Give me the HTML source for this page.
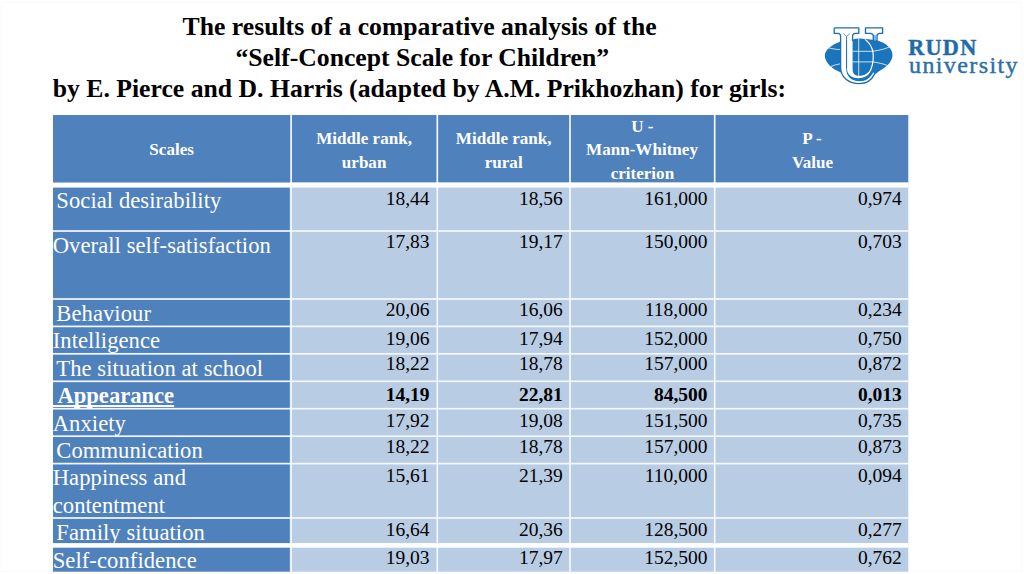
<!DOCTYPE html>
<html><head><meta charset="utf-8"><title>Slide</title>
<style>
html,body{margin:0;padding:0;background:#fff;}
body{width:1024px;height:574px;position:relative;overflow:hidden;font-family:"Liberation Serif",serif;}
.t{position:absolute;line-height:1;white-space:nowrap;}
.r{position:absolute;}
</style></head><body>
<div class="r" style="left:1px;top:2px;width:1021px;height:570px;border:1px solid #fafafa;box-sizing:border-box"></div>
<svg class="r" style="left:0;top:0" width="1024" height="574" viewBox="0 0 1024 574"><rect x="53.00" y="115.00" width="855.30" height="67.60" fill="#4F81BD"/><rect x="53.00" y="182.60" width="236.90" height="389.10" fill="#4F81BD"/><rect x="289.90" y="182.60" width="618.40" height="389.10" fill="#B8CCE4"/></svg>
<div class="t" style="top:14.00px;font-size:25.7px;color:#000;font-weight:bold;left:-180.40px;width:1200px;text-align:center;">The results of a comparative analysis of the</div>
<div class="t" style="top:45.00px;font-size:25.7px;color:#000;font-weight:bold;left:-177.70px;width:1200px;text-align:center;">“Self-Concept Scale for Children”</div>
<div class="t" style="top:76.00px;font-size:25.7px;color:#000;font-weight:bold;left:-180.60px;width:1200px;text-align:center;">by E. Pierce and D. Harris (adapted by A.M. Prikhozhan) for girls:</div>
<div class="t" style="top:141.00px;font-size:17.07px;color:#fff;font-weight:bold;left:-428.40px;width:1200px;text-align:center;">Scales</div>
<div class="t" style="top:130.00px;font-size:17.07px;color:#fff;font-weight:bold;left:-235.90px;width:1200px;text-align:center;">Middle rank,</div>
<div class="t" style="top:154.00px;font-size:17.07px;color:#fff;font-weight:bold;left:-235.90px;width:1200px;text-align:center;">urban</div>
<div class="t" style="top:130.00px;font-size:17.07px;color:#fff;font-weight:bold;left:-96.30px;width:1200px;text-align:center;">Middle rank,</div>
<div class="t" style="top:154.00px;font-size:17.07px;color:#fff;font-weight:bold;left:-96.30px;width:1200px;text-align:center;">rural</div>
<div class="t" style="top:118.00px;font-size:17.07px;color:#fff;font-weight:bold;left:42.40px;width:1200px;text-align:center;">U -</div>
<div class="t" style="top:141.00px;font-size:17.07px;color:#fff;font-weight:bold;left:42.00px;width:1200px;text-align:center;">Mann-Whitney</div>
<div class="t" style="top:165.00px;font-size:17.07px;color:#fff;font-weight:bold;left:42.40px;width:1200px;text-align:center;">criterion</div>
<div class="t" style="top:130.00px;font-size:17.07px;color:#fff;font-weight:bold;left:212.00px;width:1200px;text-align:center;">P -</div>
<div class="t" style="top:154.00px;font-size:17.07px;color:#fff;font-weight:bold;left:212.50px;width:1200px;text-align:center;">Value</div>
<div class="t" style="top:190.00px;font-size:22.6px;color:#fff;left:56.30px;letter-spacing:.07px;">Social desirability</div>
<div class="t" style="top:235.00px;font-size:22.6px;color:#fff;left:52.70px;letter-spacing:.07px;">Overall self-satisfaction</div>
<div class="t" style="top:303.00px;font-size:22.6px;color:#fff;left:56.30px;letter-spacing:.07px;">Behaviour</div>
<div class="t" style="top:330.00px;font-size:22.6px;color:#fff;left:52.70px;letter-spacing:.07px;">Intelligence</div>
<div class="t" style="top:358.00px;font-size:22.6px;color:#fff;left:56.30px;letter-spacing:.07px;">The situation at school</div>
<div class="t" style="top:385.00px;font-size:22.6px;color:#fff;font-weight:bold;left:53.00px;"><span style="text-decoration:underline;text-decoration-skip-ink:none;text-decoration-thickness:1.9px;text-underline-offset:1.6px;white-space:pre"> Appearance</span></div>
<div class="t" style="top:413.00px;font-size:22.6px;color:#fff;left:52.70px;letter-spacing:.07px;">Anxiety</div>
<div class="t" style="top:440.00px;font-size:22.6px;color:#fff;left:56.30px;letter-spacing:.07px;">Communication</div>
<div class="t" style="top:467.00px;font-size:22.6px;color:#fff;left:52.70px;letter-spacing:.07px;">Happiness and</div>
<div class="t" style="top:495.00px;font-size:22.6px;color:#fff;left:52.70px;letter-spacing:.07px;">contentment</div>
<div class="t" style="top:522.00px;font-size:22.6px;color:#fff;left:56.30px;letter-spacing:.07px;">Family situation</div>
<div class="t" style="top:550.00px;font-size:22.6px;color:#fff;left:52.70px;letter-spacing:.07px;">Self-confidence</div>
<div class="t" style="top:189.00px;font-size:19.5px;color:#000;right:594.40px;">18,44</div>
<div class="t" style="top:189.00px;font-size:19.5px;color:#000;right:461.20px;">18,56</div>
<div class="t" style="top:189.00px;font-size:19.5px;color:#000;right:316.50px;">161,000</div>
<div class="t" style="top:189.00px;font-size:19.5px;color:#000;right:122.20px;">0,974</div>
<div class="t" style="top:232.00px;font-size:19.5px;color:#000;right:594.40px;">17,83</div>
<div class="t" style="top:232.00px;font-size:19.5px;color:#000;right:461.20px;">19,17</div>
<div class="t" style="top:232.00px;font-size:19.5px;color:#000;right:316.50px;">150,000</div>
<div class="t" style="top:232.00px;font-size:19.5px;color:#000;right:122.20px;">0,703</div>
<div class="t" style="top:300.00px;font-size:19.5px;color:#000;right:594.40px;">20,06</div>
<div class="t" style="top:300.00px;font-size:19.5px;color:#000;right:461.20px;">16,06</div>
<div class="t" style="top:300.00px;font-size:19.5px;color:#000;right:316.50px;">118,000</div>
<div class="t" style="top:300.00px;font-size:19.5px;color:#000;right:122.20px;">0,234</div>
<div class="t" style="top:329.00px;font-size:19.5px;color:#000;right:594.40px;">19,06</div>
<div class="t" style="top:329.00px;font-size:19.5px;color:#000;right:461.20px;">17,94</div>
<div class="t" style="top:329.00px;font-size:19.5px;color:#000;right:316.50px;">152,000</div>
<div class="t" style="top:329.00px;font-size:19.5px;color:#000;right:122.20px;">0,750</div>
<div class="t" style="top:354.00px;font-size:19.5px;color:#000;right:594.40px;">18,22</div>
<div class="t" style="top:354.00px;font-size:19.5px;color:#000;right:461.20px;">18,78</div>
<div class="t" style="top:354.00px;font-size:19.5px;color:#000;right:316.50px;">157,000</div>
<div class="t" style="top:354.00px;font-size:19.5px;color:#000;right:122.20px;">0,872</div>
<div class="t" style="top:385.00px;font-size:19.5px;color:#000;font-weight:bold;right:594.40px;">14,19</div>
<div class="t" style="top:385.00px;font-size:19.5px;color:#000;font-weight:bold;right:461.20px;">22,81</div>
<div class="t" style="top:385.00px;font-size:19.5px;color:#000;font-weight:bold;right:316.50px;">84,500</div>
<div class="t" style="top:385.00px;font-size:19.5px;color:#000;font-weight:bold;right:122.20px;">0,013</div>
<div class="t" style="top:411.00px;font-size:19.5px;color:#000;right:594.40px;">17,92</div>
<div class="t" style="top:411.00px;font-size:19.5px;color:#000;right:461.20px;">19,08</div>
<div class="t" style="top:411.00px;font-size:19.5px;color:#000;right:316.50px;">151,500</div>
<div class="t" style="top:411.00px;font-size:19.5px;color:#000;right:122.20px;">0,735</div>
<div class="t" style="top:437.00px;font-size:19.5px;color:#000;right:594.40px;">18,22</div>
<div class="t" style="top:437.00px;font-size:19.5px;color:#000;right:461.20px;">18,78</div>
<div class="t" style="top:437.00px;font-size:19.5px;color:#000;right:316.50px;">157,000</div>
<div class="t" style="top:437.00px;font-size:19.5px;color:#000;right:122.20px;">0,873</div>
<div class="t" style="top:466.00px;font-size:19.5px;color:#000;right:594.40px;">15,61</div>
<div class="t" style="top:466.00px;font-size:19.5px;color:#000;right:461.20px;">21,39</div>
<div class="t" style="top:466.00px;font-size:19.5px;color:#000;right:316.50px;">110,000</div>
<div class="t" style="top:466.00px;font-size:19.5px;color:#000;right:122.20px;">0,094</div>
<div class="t" style="top:520.00px;font-size:19.5px;color:#000;right:594.40px;">16,64</div>
<div class="t" style="top:520.00px;font-size:19.5px;color:#000;right:461.20px;">20,36</div>
<div class="t" style="top:520.00px;font-size:19.5px;color:#000;right:316.50px;">128,500</div>
<div class="t" style="top:520.00px;font-size:19.5px;color:#000;right:122.20px;">0,277</div>
<div class="t" style="top:548.00px;font-size:19.5px;color:#000;right:594.40px;">19,03</div>
<div class="t" style="top:548.00px;font-size:19.5px;color:#000;right:461.20px;">17,97</div>
<div class="t" style="top:548.00px;font-size:19.5px;color:#000;right:316.50px;">152,500</div>
<div class="t" style="top:548.00px;font-size:19.5px;color:#000;right:122.20px;">0,762</div>
<svg class="r" style="left:0;top:0" width="1024" height="574" viewBox="0 0 1024 574"><rect x="290.25" y="115.00" width="1.70" height="456.70" fill="#f4f8ff"/><rect x="436.45" y="115.00" width="1.70" height="456.70" fill="#f4f8ff"/><rect x="569.15" y="115.00" width="1.70" height="456.70" fill="#f4f8ff"/><rect x="713.85" y="115.00" width="1.70" height="456.70" fill="#f4f8ff"/><rect x="53.00" y="182.70" width="855.30" height="4.90" fill="#fff"/><rect x="53.00" y="230.15" width="855.30" height="1.70" fill="#f4f8ff"/><rect x="53.00" y="298.15" width="855.30" height="1.70" fill="#f4f8ff"/><rect x="53.00" y="325.55" width="855.30" height="1.70" fill="#f4f8ff"/><rect x="53.00" y="352.95" width="855.30" height="1.70" fill="#f4f8ff"/><rect x="53.00" y="380.45" width="855.30" height="1.70" fill="#f4f8ff"/><rect x="53.00" y="407.85" width="855.30" height="1.70" fill="#f4f8ff"/><rect x="53.00" y="435.35" width="855.30" height="1.70" fill="#f4f8ff"/><rect x="53.00" y="462.75" width="855.30" height="1.70" fill="#f4f8ff"/><rect x="53.00" y="517.15" width="855.30" height="1.70" fill="#f4f8ff"/><rect x="53.00" y="543.10" width="855.30" height="4.60" fill="#fff"/></svg>
<svg class="r" style="left:816px;top:18px" width="96" height="72" viewBox="816 18 96 72">
<!-- globe -->
<path d="M824.8 55.4 C825.2 50 831 44.6 840.9 41.4 L852.5 39.4 C856.5 38.3 861 38.3 866 39 L877 40.3 C886 43 892.3 48.5 892.5 54.6 C892.6 60.5 888.5 66.2 879 71.2 L872.5 76.5 L866 80 L850 80 L841 72.4 C832 69 825 62.5 824.8 55.4 Z" fill="#1B75BC"/>
<path d="M840.6 40 V67 C840.6 77.6 848.5 83.7 859.6 83.7 C866.3 83.7 871.6 80.2 874.6 73.9 L870 66 L852.6 66 V40 Z" fill="#1B75BC"/>
<!-- grid lines -->
<g fill="none" stroke="#fff" stroke-opacity=".85" stroke-width=".9">
<path d="M858.7 38.6 V76"/>
<path d="M852.6 51.3 H872 C879 50.6 885.5 48.9 890.8 46.3"/>
<path d="M852.6 61.9 H872 C879 62.6 885 64.2 890 66.6"/>
<path d="M827 47.3 C831 48.6 835 49.3 840 49.6"/>
<path d="M830.6 66.6 C834 65.2 837 64.3 840.2 63.8"/>
</g>
<!-- U letter -->
<path d="M834.2 27.9 H858.8 V33.4 H855.3 C853.4 33.6 852.6 34.5 852.6 36 V40 H840.6 V36 C840.6 34.5 839.8 33.6 837.9 33.4 H834.2 Z" fill="#fff"/>
<path d="M840.6 36 V67 C840.6 77.6 848.5 83.7 859.6 83.7 C866.3 83.7 871.6 80.2 874.6 73.9 L873.3 72.3 C870.5 78 865.8 81.3 859.8 81.3 C851 81.3 846.2 76 846.2 68.5 V36 Z" fill="#fff"/>
<path d="M847 36 V68.5 C847 74.5 851.5 78.2 858.5 78.2 C863.5 78.2 867.5 76.3 870 72.5 C872.4 68.5 873.9 62.5 873.9 56 C873.9 49 870.8 43 865.3 39 L864.6 39.8 C869.8 43.6 872.7 49.3 872.7 56 C872.7 62.3 871.3 67.8 869 71.6 C866.8 74.4 863.3 75.9 859.3 75.9 C855 75.9 852.6 73.6 852.6 69.5 V36 Z" fill="#fff"/>
<path d="M834.2 27.9 H858.8 V33.4 H855.3 C853.4 33.6 852.6 34.5 852.6 36 V41" fill="none" stroke="#1C6DB2" stroke-width="1.3" stroke-linejoin="round"/>
<path d="M834.2 27.9 V33.4 H837.9 C839.8 33.6 840.6 34.5 840.6 36 V67 C840.6 77.6 848.5 83.7 859.6 83.7 C866.3 83.7 871.6 80.2 874.6 73.9" fill="none" stroke="#1C6DB2" stroke-width="1.3" stroke-linejoin="round"/>
<path d="M846.6 36.2 V68" fill="none" stroke="#1C6DB2" stroke-width=".9"/>
<path d="M843.3 33.6 L846.6 36.4 L849.9 33.6" fill="none" stroke="#1C6DB2" stroke-width=".7"/>
<!-- right serif + thin stem -->
<path d="M865.5 27.9 H882.6 V33.4 H879.6 C877.9 33.7 877 34.6 877 36 V40.6 H873.3 V36 C873.3 34.6 872.4 33.7 870.7 33.4 H865.5 Z" fill="#fff" stroke="#1C6DB2" stroke-width="1.35" stroke-linejoin="round"/>
<path d="M874.1 35 V40.6 H876.2 V35 Z" fill="#7FB4DF"/>
</svg>
<div class="t" style="left:908.2px;top:37px;font-size:22.2px;font-weight:bold;color:#1F6BA8;letter-spacing:1.3px;-webkit-text-stroke:.45px #1F6BA8">RUDN</div>
<div class="t" style="left:909px;top:53px;font-size:24px;color:#2A6FA6;letter-spacing:1.4px;-webkit-text-stroke:.4px #2A6FA6">university</div>

</body></html>
